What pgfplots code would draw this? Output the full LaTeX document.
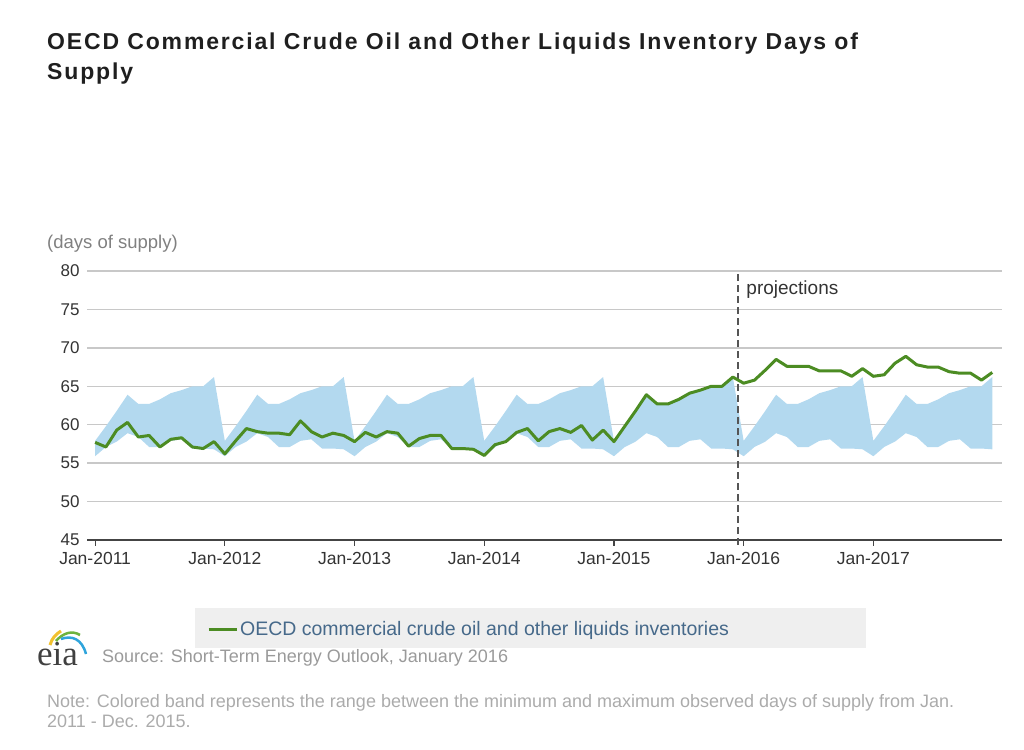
\documentclass[border=0pt]{standalone}
\usepackage{pgfplots}
\pgfplotsset{compat=1.18}
\usepackage{fontspec}
\setmainfont{Liberation Sans}
\newfontfamily\titlefont[LetterSpace=8]{Liberation Sans}
\newfontfamily\logofont{Liberation Serif}
\definecolor{bandc}{HTML}{B3D9EF}
\definecolor{linec}{HTML}{4C8C23}
\definecolor{gridc}{HTML}{C8C8C8}
\definecolor{axisc}{HTML}{444444}
\definecolor{tickc}{HTML}{333333}
\definecolor{dashc}{HTML}{555555}
\definecolor{legfill}{HTML}{EFEFEF}
\definecolor{legtext}{HTML}{46698A}
\definecolor{unitc}{HTML}{808080}
\definecolor{srcc}{HTML}{9A9A9A}
\definecolor{notec}{HTML}{ABABAB}
\definecolor{logoy}{HTML}{F2C12E}
\definecolor{logog}{HTML}{6DB33F}
\definecolor{logob}{HTML}{2FA4DC}
\begin{document}
\begin{tikzpicture}[x=1pt,y=1pt]
\path[use as bounding box] (0,0) rectangle (1024,749);
% legend background
\fill[legfill] (195,101) rectangle (866,141);
\begin{axis}[
  at={(87pt,209pt)}, anchor=south west,
  scale only axis, width=915pt, height=269pt,
  xmin=-0.75, xmax=83.9, ymin=45, ymax=80,
  clip=false,
  axis x line*=bottom, axis y line*=left,
  x axis line style={draw=axisc, line width=2pt},
  y axis line style={draw=none},
  xtick={0,12,24,36,48,60,72},
  xticklabels={Jan-2011,Jan-2012,Jan-2013,Jan-2014,Jan-2015,Jan-2016,Jan-2017},
  ytick={45,50,55,60,65,70,75,80},
  tick align=outside, major tick length=6pt,
  xtick style={draw=axisc, line width=1.2pt},
  ytick style={draw=none},
  ymajorgrids, grid style={gridc, line width=1.5pt},
  /pgf/number format/assume math mode=true,
  xticklabel style={font=\fontsize{17.5}{17.5}\selectfont, text=tickc, yshift=-3pt},
  yticklabel style={font=\fontsize{17}{17}\selectfont, text=tickc, xshift=2pt},
  legend style={at={(0.1311,-0.3309)}, anchor=west, draw=none, fill=none,
    inner sep=0pt, font=\fontsize{19.5}{20}\selectfont, text=legtext},
  legend image code/.code={\draw[#1] (0pt,0pt) -- (28pt,0pt);},
  legend cell align=left,
]
\addplot[fill=bandc, draw=none, forget plot] coordinates {
(0,57.9)(1,59.8)(2,61.8)(3,63.9)(4,62.7)(5,62.7)(6,63.3)(7,64.1)(8,64.5)(9,65.0)(10,65.0)(11,66.2)
(12,57.9)(13,59.8)(14,61.8)(15,63.9)(16,62.7)(17,62.7)(18,63.3)(19,64.1)(20,64.5)(21,65.0)(22,65.0)(23,66.2)
(24,57.9)(25,59.8)(26,61.8)(27,63.9)(28,62.7)(29,62.7)(30,63.3)(31,64.1)(32,64.5)(33,65.0)(34,65.0)(35,66.2)
(36,57.9)(37,59.8)(38,61.8)(39,63.9)(40,62.7)(41,62.7)(42,63.3)(43,64.1)(44,64.5)(45,65.0)(46,65.0)(47,66.2)
(48,57.9)(49,59.8)(50,61.8)(51,63.9)(52,62.7)(53,62.7)(54,63.3)(55,64.1)(56,64.5)(57,65.0)(58,65.0)(59,66.2)
(60,57.9)(61,59.8)(62,61.8)(63,63.9)(64,62.7)(65,62.7)(66,63.3)(67,64.1)(68,64.5)(69,65.0)(70,65.0)(71,66.2)
(72,57.9)(73,59.8)(74,61.8)(75,63.9)(76,62.7)(77,62.7)(78,63.3)(79,64.1)(80,64.5)(81,65.0)(82,65.0)(83,66.2)
(83,56.8)(82,56.9)(81,56.9)(80,58.1)(79,57.9)(78,57.1)(77,57.1)(76,58.4)(75,58.9)(74,57.8)(73,57.1)(72,55.9)
(71,56.8)(70,56.9)(69,56.9)(68,58.1)(67,57.9)(66,57.1)(65,57.1)(64,58.4)(63,58.9)(62,57.8)(61,57.1)(60,55.9)
(59,56.8)(58,56.9)(57,56.9)(56,58.1)(55,57.9)(54,57.1)(53,57.1)(52,58.4)(51,58.9)(50,57.8)(49,57.1)(48,55.9)
(47,56.8)(46,56.9)(45,56.9)(44,58.1)(43,57.9)(42,57.1)(41,57.1)(40,58.4)(39,58.9)(38,57.8)(37,57.1)(36,55.9)
(35,56.8)(34,56.9)(33,56.9)(32,58.1)(31,57.9)(30,57.1)(29,57.1)(28,58.4)(27,58.9)(26,57.8)(25,57.1)(24,55.9)
(23,56.8)(22,56.9)(21,56.9)(20,58.1)(19,57.9)(18,57.1)(17,57.1)(16,58.4)(15,58.9)(14,57.8)(13,57.1)(12,55.9)
(11,56.8)(10,56.9)(9,56.9)(8,58.1)(7,57.9)(6,57.1)(5,57.1)(4,58.4)(3,58.9)(2,57.8)(1,57.1)(0,55.9)
} -- cycle;
\addplot[dashc, line width=2pt, dash pattern=on 7pt off 4pt, forget plot] coordinates {(59.5,44.35)(59.5,80)};
\addplot[linec, line width=3pt, line join=round] coordinates {
(0,57.7)(1,57.1)(2,59.3)(3,60.3)(4,58.4)(5,58.6)(6,57.1)(7,58.1)(8,58.3)(9,57.1)(10,56.9)(11,57.8)
(12,56.2)(13,57.9)(14,59.5)(15,59.1)(16,58.9)(17,58.9)(18,58.7)(19,60.5)(20,59.1)(21,58.4)(22,58.9)(23,58.6)
(24,57.8)(25,59.0)(26,58.4)(27,59.1)(28,58.9)(29,57.2)(30,58.2)(31,58.6)(32,58.6)(33,56.9)(34,56.9)(35,56.8)
(36,56.0)(37,57.4)(38,57.8)(39,59.0)(40,59.5)(41,57.9)(42,59.1)(43,59.5)(44,59.0)(45,59.9)(46,58.0)(47,59.3)
(48,57.8)(49,59.8)(50,61.8)(51,63.9)(52,62.7)(53,62.7)(54,63.3)(55,64.1)(56,64.5)(57,65.0)(58,65.0)(59,66.2)
(60,65.4)(61,65.8)(62,67.1)(63,68.5)(64,67.6)(65,67.6)(66,67.6)(67,67.0)(68,67.0)(69,67.0)(70,66.3)(71,67.3)
(72,66.3)(73,66.5)(74,68.0)(75,68.9)(76,67.8)(77,67.5)(78,67.5)(79,66.9)(80,66.7)(81,66.7)(82,65.8)(83,66.8)
};
\addlegendentry{OECD commercial crude oil and other liquids inventories}
\node[anchor=base west, inner sep=0pt, xshift=8pt, text=tickc, font=\fontsize{19}{19}\selectfont] at (axis cs:59.5,76.9) {projections};
\end{axis}
% titles and notes
\node[anchor=base west, inner sep=0pt, text=black!88, font=\titlefont\bfseries\fontsize{23}{30}\selectfont] at (47,699) {OECD Commercial Crude Oil and Other Liquids Inventory Days of};
\node[anchor=base west, inner sep=0pt, text=black!88, font=\titlefont\bfseries\fontsize{23}{30}\selectfont] at (47,669) {Supply};
\node[anchor=base west, inner sep=0pt, text=unitc, font=\fontsize{18.5}{19}\selectfont] at (47,500) {(days of supply)};
\node[anchor=base west, inner sep=0pt, text=srcc, font=\fontsize{18}{18}\selectfont] at (102,87) {Source: Short-Term Energy Outlook, January 2016};
\node[anchor=base west, inner sep=0pt, text=notec, font=\fontsize{18}{18}\selectfont] at (47,42) {Note: Colored band represents the range between the minimum and maximum observed days of supply from Jan.};
\node[anchor=base west, inner sep=0pt, text=notec, font=\fontsize{18}{18}\selectfont] at (47,22) {2011 - Dec. 2015.};
% eia logo
\node[anchor=base west, inner sep=0pt, text=black!75, font=\logofont\fontsize{35}{35}\selectfont] at (37,83) {eia};
\draw[logoy, line width=3pt] (50,104) .. controls (52,111) and (56,115) .. (61,118);
\draw[logog, line width=2.5pt] (56,108) .. controls (63,116) and (72,119) .. (80,114);
\draw[logob, line width=2.5pt] (61,110) .. controls (72,114) and (82,110) .. (86,95);
\end{tikzpicture}
\end{document}
